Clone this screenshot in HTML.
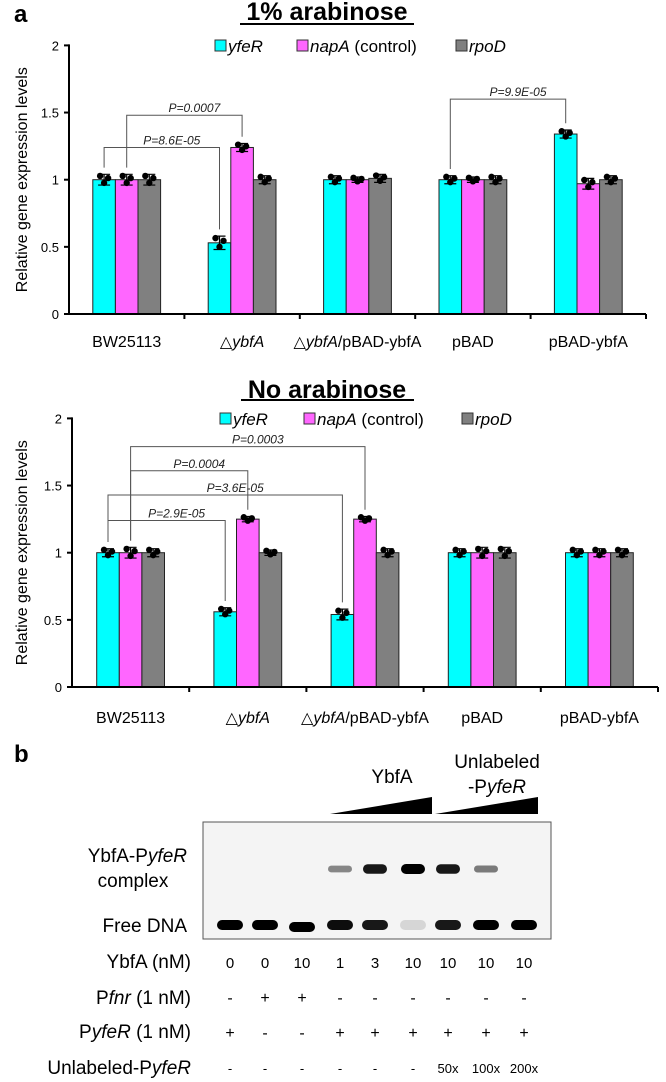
<!DOCTYPE html>
<html><head><meta charset="utf-8"><style>
html,body{margin:0;padding:0;background:#fff;}
svg{display:block;font-family:"Liberation Sans",Arial,sans-serif;}
</style></head><body>
<svg id="fig" width="666" height="1082" viewBox="0 0 666 1082" xmlns="http://www.w3.org/2000/svg">
<text x="14" y="22" font-size="24" font-weight="bold">a</text>
<text x="327" y="20" font-size="25" font-weight="bold" text-anchor="middle">1% arabinose</text>
<line x1="240" y1="24" x2="414" y2="24" stroke="#000" stroke-width="2"/>
<text x="327" y="398" font-size="25" font-weight="bold" text-anchor="middle">No arabinose</text>
<line x1="241" y1="400" x2="414" y2="400" stroke="#000" stroke-width="2"/>
<g id="topChart"></g>
<g id="botChart"></g>
<g id="panelB"></g>
</svg>
<script>
const categories = ["BW25113", "\u25b3ybfA", "\u25b3ybfA/pBAD-ybfA", "pBAD", "pBAD-ybfA"];
const seriesNames = ["yfeR", "napA", "rpoD"];
const seriesColors = ["#00ffff", "#ff66ff", "#808080"];
const topYfeR = [1.00, 0.53, 1.00, 1.00, 1.34];
const topNapA = [1.00, 1.24, 1.00, 1.00, 0.97];
const topRpoD = [1.00, 1.00, 1.01, 1.00, 1.00];
const topErr = [[0.04,0.04,0.04],[0.05,0.03,0.03],[0.03,0.02,0.03],[0.03,0.02,0.03],[0.03,0.04,0.03]];
const botYfeR = [1.00, 0.56, 0.54, 1.00, 1.00];
const botNapA = [1.00, 1.25, 1.25, 1.00, 1.00];
const botRpoD = [1.00, 1.00, 1.00, 1.00, 1.00];
const botErr = [[0.03,0.04,0.03],[0.03,0.02,0.02],[0.04,0.02,0.03],[0.03,0.04,0.04],[0.03,0.03,0.03]];
const yTicks = [0, 0.5, 1, 1.5, 2];
const yTickLabels = ["0", "0.5", "1", "1.5", "2"];
const topBrackets = [
  {from:[0,0], to:[1,0], level:1.24, label:"P=8.6E-05"},
  {from:[0,1], to:[1,1], level:1.48, label:"P=0.0007"},
  {from:[3,0], to:[4,0], level:1.60, label:"P=9.9E-05"}];
const botBrackets = [
  {from:[0,0], to:[1,0], level:1.24, label:"P=2.9E-05"},
  {from:[0,0], to:[2,0], level:1.43, label:"P=3.6E-05"},
  {from:[0,1], to:[1,1], level:1.61, label:"P=0.0004"},
  {from:[0,1], to:[2,1], level:1.79, label:"P=0.0003"}];

const NS = "http://www.w3.org/2000/svg";
function mk(parent, tag, attrs, text){
  const e = document.createElementNS(NS, tag);
  for (const k in attrs) e.setAttribute(k, attrs[k]);
  if (text !== undefined) e.textContent = text;
  parent.appendChild(e); return e;
}

function drawChart(g, cfg){
  const x0 = cfg.x0, W = cfg.W, y0 = cfg.y0, ppu = cfg.ppu;
  const yScale = v => y0 - v * ppu;
  const bw = 22.6;
  const barX = (c, s) => x0 + c * W + W/2 - 1.5*bw + s*bw;
  const series = [cfg.s1, cfg.s2, cfg.s3];
  const ax = mk(g, "line", {x1:x0, y1:yScale(2)-1, x2:x0, y2:y0, stroke:"#000", "stroke-width":2});
  
  
  yTicks.forEach((t, i) => {
    const tk = mk(g, "line", {x1:x0-5, y1:yScale(t), x2:x0, y2:yScale(t), stroke:"#000", "stroke-width":2});
    
    
    const tl = mk(g, "text", {x:x0-10, y:yScale(t)+5, "font-size":13, "text-anchor":"end"}, yTickLabels[i]);
    
    
  });
  const yt = mk(g, "text", {x:0, y:0, "font-size":16, "text-anchor":"middle", transform:`translate(27,${(yScale(2)+y0)/2}) rotate(-90)`}, "Relative gene expression levels");
  
  
  categories.forEach((cat, c) => {
    series.forEach((arr, s) => {
      const v = arr[c];
      const b = mk(g, "rect", {x:barX(c,s), y:yScale(v), width:bw, height:y0-yScale(v), fill:seriesColors[s], stroke:"#222", "stroke-width":1});
      
      
      const cx = barX(c,s) + bw/2;
      const e = cfg.err[c][s];
      const eb = mk(g, "path", {d:`M${cx},${yScale(v-e)}V${yScale(v+e)}M${cx-6},${yScale(v+e)}H${cx+6}M${cx-6},${yScale(v-e)}H${cx+6}`, stroke:"#000", "stroke-width":1.2, fill:"none"});
      
      
      [[-4, e*0.7],[0, -e*0.6],[4, e*0.3]].forEach(d => {
        const dot = mk(g, "circle", {cx:cx+d[0], cy:yScale(v+d[1]), r:3.2, fill:"#000"});
        
        
      });
    });
    const lab = mk(g, "text", {x:x0+c*W+W/2, y:cfg.labelY, "font-size":16, "text-anchor":"middle"});
    
    
    if (c === 1) { lab.innerHTML = '\u25b3<tspan font-style="italic">ybfA</tspan>'; }
    else if (c === 2) { lab.innerHTML = '\u25b3<tspan font-style="italic">ybfA</tspan>/pBAD-ybfA'; }
    else lab.textContent = cat;
  });
  const xa = mk(g, "line", {x1:x0-1, y1:y0, x2:x0+5*W, y2:y0, stroke:"#000", "stroke-width":2});
  
  
  for (let i=1;i<=5;i++){
    const t = mk(g, "line", {x1:x0+i*W, y1:y0, x2:x0+i*W, y2:y0+5, stroke:"#000", "stroke-width":2});
    
    
  }
  cfg.brackets.forEach(br => {
    const xa1 = barX(br.from[0], br.from[1]) + bw/2;
    const xb1 = barX(br.to[0], br.to[1]) + bw/2;
    const va = series[br.from[1]][br.from[0]] + cfg.err[br.from[0]][br.from[1]] + 0.05;
    const vb = series[br.to[1]][br.to[0]] + cfg.err[br.to[0]][br.to[1]] + 0.05;
    const ly = yScale(br.level);
    const p = mk(g, "path", {d:`M${xa1},${yScale(va)}V${ly}H${xb1}V${yScale(vb)}`, stroke:"#555", "stroke-width":1, fill:"none"});
    
    
    const t = mk(g, "text", {x:(xa1+xb1)/2+10, y:ly-3, "font-size":12, "font-style":"italic", "text-anchor":"middle", fill:"#222"}, br.label);
    
    
  });
  const lg = mk(g, "g", {});
  
  
  const items = [[cfg.legX[0], '<tspan font-style="italic">yfeR</tspan>'], [cfg.legX[1], '<tspan font-style="italic">napA</tspan> (control)'], [cfg.legX[2], '<tspan font-style="italic">rpoD</tspan>']];
  items.forEach((it, s) => {
    const bx = mk(lg, "rect", {x:it[0], y:cfg.legY-6, width:11, height:11, fill:seriesColors[s], stroke:"#333", "stroke-width":1});
    
    
    const tx = mk(lg, "text", {x:it[0]+13, y:cfg.legY+6, "font-size":17});
    tx.innerHTML = it[1];
    
    
  });
}

drawChart(document.getElementById("topChart"), {x0:69, W:115.4, y0:314, ppu:134.3, s1:topYfeR, s2:topNapA, s3:topRpoD, err:topErr, brackets:topBrackets, labelY:347, legX:[215,297,456], legY:46});
drawChart(document.getElementById("botChart"), {x0:72, W:117.2, y0:687, ppu:134.3, s1:botYfeR, s2:botNapA, s3:botRpoD, err:botErr, brackets:botBrackets, labelY:723, legX:[220,304,462], legY:419});

const lanes = [230, 265, 302, 340, 375, 413, 448, 486, 524];
const ybfaNM = ["0","0","10","1","3","10","10","10","10"];
const pfnr = ["-","+","+","-","-","-","-","-","-"];
const pyfer = ["+","-","-","+","+","+","+","+","+"];
const unlabeled = ["-","-","-","-","-","-","50x","100x","200x"];
const freeBand = [1, 1, 1, 0.95, 0.9, 0.12, 0.9, 1, 1];
const complexBand = [0, 0, 0, 0.45, 0.9, 1, 0.9, 0.5, 0];

(function(){
  const g = document.getElementById("panelB");
  const b = mk(g, "text", {x:14, y:762, "font-size":24, "font-weight":"bold"}, "b");
  
  
  const t1 = mk(g, "text", {x:392, y:783, "font-size":19, "text-anchor":"middle"}, "YbfA");
  
  
  const t2 = mk(g, "text", {x:497, y:768, "font-size":19, "text-anchor":"middle"}, "Unlabeled");
  
  
  const t3 = mk(g, "text", {x:497, y:793, "font-size":19, "text-anchor":"middle"});
  t3.innerHTML = '-P<tspan font-style="italic">yfeR</tspan>';
  
  
  const tr1 = mk(g, "polygon", {points:"330,814 432,797 432,814", fill:"#000"});
  
  
  const tr2 = mk(g, "polygon", {points:"435,814 538,797 538,814", fill:"#000"});
  
  
  const gel = mk(g, "rect", {x:203, y:822, width:348, height:117, fill:"#f4f4f4", stroke:"#555", "stroke-width":1});
  
  
  lanes.forEach((x, i) => {
    const fy = i === 2 ? 927 : 925;
    if (freeBand[i] > 0) {
      const e = mk(g, "rect", {x:x-13, y:fy-5, width:26, height:10, rx:5, fill:"#000", opacity:freeBand[i]});
      
      
    }
    if (complexBand[i] > 0) {
      const h = 4 + 6*complexBand[i];
      const e = mk(g, "rect", {x:x-12, y:869-h/2, width:24, height:h, rx:h/2, fill:"#000", opacity:complexBand[i]});
      
      
    }
    [[ybfaNM,968,15],[pfnr,1003,16],[pyfer,1038,16],[unlabeled,1073,13]].forEach(r => {
      const t = mk(g, "text", {x:x, y:r[1], "font-size":r[2], "text-anchor":"middle"}, r[0][i]);
      
      
    });
  });
  const labs = [
    [187, 862, 'YbfA-P<tspan font-style="italic">yfeR</tspan>', "end"],
    [133, 887, 'complex', "middle"],
    [187, 932, 'Free DNA', "end"],
    [191, 968, 'YbfA (nM)', "end"],
    [191, 1004, 'P<tspan font-style="italic">fnr</tspan> (1 nM)', "end"],
    [191, 1038, 'P<tspan font-style="italic">yfeR</tspan> (1 nM)', "end"],
    [191, 1074, 'Unlabeled-P<tspan font-style="italic">yfeR</tspan>', "end"]];
  labs.forEach(l => {
    const t = mk(g, "text", {x:l[0], y:l[1], "font-size":19, "text-anchor":l[3]});
    t.innerHTML = l[2];
    
    
  });
})();
</script>
</body></html>
